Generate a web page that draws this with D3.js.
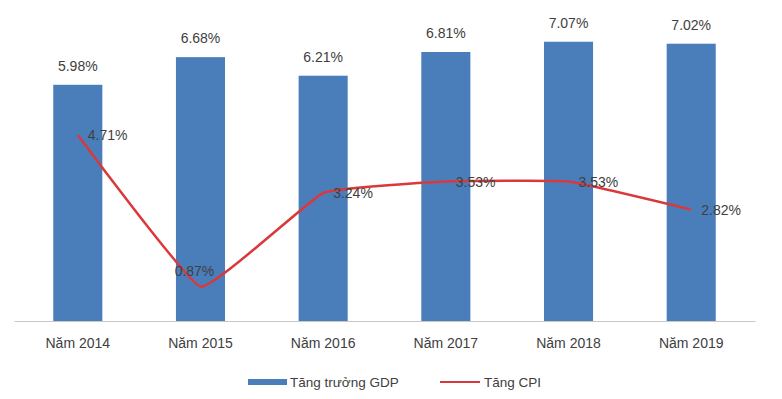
<!DOCTYPE html>
<html>
<head>
<meta charset="utf-8">
<script src="https://cdn.jsdelivr.net/npm/d3@7"></script>
<style>
  body { margin: 0; background: #fff; }
  text { font-family: "Liberation Sans", Arial, sans-serif; fill: #404040; }
</style>
</head>
<body>
<div id="chart"></div>
<script>
const years = ["Năm 2014", "Năm 2015", "Năm 2016", "Năm 2017", "Năm 2018", "Năm 2019"];
const gdpGrowth = [5.98, 6.68, 6.21, 6.81, 7.07, 7.02];
const cpiGrowth = [4.71, 0.87, 3.24, 3.53, 3.53, 2.82];
const legendLabels = ["Tăng trưởng GDP", "Tăng CPI"];

const W = 782, H = 399;
const margin = { top: 5, right: 27, bottom: 78, left: 14 };
const width = W - margin.left - margin.right;
const height = H - margin.top - margin.bottom;

const barColor = "#4a7ebb";
const lineColor = "#d9393b";

const svg = d3.select("#chart").append("svg")
    .attr("width", W)
    .attr("height", H);

const g = svg.append("g")
    .attr("transform", `translate(${margin.left},${margin.top})`);

const x = d3.scaleBand().domain(years).range([0, width]).paddingInner(0.6).paddingOuter(0.32);
const y = d3.scaleLinear().domain([0, 8]).range([height, 0]);

// bars
g.selectAll(".bar")
    .data(gdpGrowth)
    .enter().append("rect")
    .attr("class", "bar")
    .attr("x", (d, i) => x(years[i]))
    .attr("y", d => y(d))
    .attr("width", x.bandwidth())
    .attr("height", d => height - y(d))
    .attr("fill", barColor);

g.selectAll(".bar-label")
    .data(gdpGrowth)
    .enter().append("text")
    .attr("class", "bar-label")
    .attr("x", (d, i) => x(years[i]) + x.bandwidth() / 2)
    .attr("y", d => y(d) - 14)
    .attr("text-anchor", "middle")
    .style("font-size", "14px")
    .text(d => d.toFixed(2) + "%");

// x axis
const xAxis = g.append("g")
    .attr("transform", `translate(0,${height})`)
    .call(d3.axisBottom(x).tickSize(0).tickPadding(17));
xAxis.select(".domain").attr("stroke", "#c8c8c8");
xAxis.selectAll("text").style("font-size", "14px").attr("fill", "#404040");

// CPI line (smoothed like Excel)
const cx = i => x(years[i]) + x.bandwidth() / 2;
const line = d3.line()
    .x((d, i) => cx(i))
    .y(d => y(d))
    .curve(d3.curveCardinal.tension(0.7));

g.append("path")
    .datum(cpiGrowth)
    .attr("fill", "none")
    .attr("stroke", lineColor)
    .attr("stroke-width", 2.5)
    .attr("d", line);

g.selectAll(".cpi-label")
    .data(cpiGrowth)
    .enter().append("text")
    .attr("class", "cpi-label")
    .attr("x", (d, i) => i === 1 ? cx(i) - 6 : cx(i) + 10)
    .attr("y", (d, i) => i === 1 ? y(d) - 11 : y(d) + 5)
    .attr("text-anchor", (d, i) => i === 1 ? "middle" : "start")
    .style("font-size", "14px")
    .text(d => d.toFixed(2) + "%");

// legend
const legend = svg.append("g").attr("transform", "translate(248,382)");
legend.append("rect")
    .attr("x", 0).attr("y", -3)
    .attr("width", 39).attr("height", 6)
    .attr("fill", barColor);
legend.append("text")
    .attr("x", 42).attr("y", 5)
    .style("font-size", "13.5px")
    .text(legendLabels[0]);
legend.append("line")
    .attr("x1", 192).attr("x2", 232)
    .attr("y1", 0).attr("y2", 0)
    .attr("stroke", lineColor)
    .attr("stroke-width", 2);
legend.append("text")
    .attr("x", 236).attr("y", 5)
    .style("font-size", "13.5px")
    .text(legendLabels[1]);
</script>
</body>
</html>
